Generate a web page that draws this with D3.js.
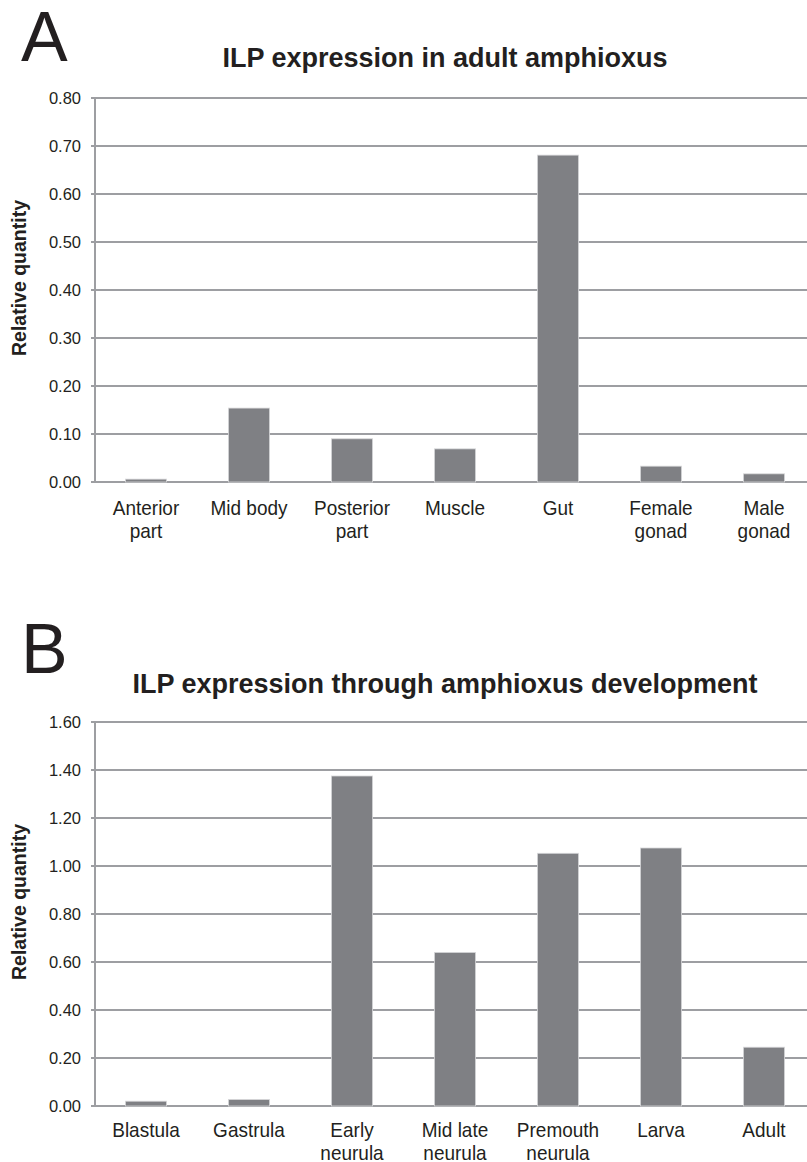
<html>
<head>
	<title>ILP expression</title>
	<meta charset="utf-8">
	<script src="https://d3js.org/d3.v7.min.js"></script>
	<style>
		body { margin: 0; background: #fff; }
		text { font-family: "Liberation Sans", Arial, sans-serif; fill: #231f20; }
	</style>
</head>
<body>
	<script type="text/javascript">
		var width = 807
		var height = 1162

		// panel A
		var catsA = [["Anterior", "part"], ["Mid body"], ["Posterior", "part"], ["Muscle"], ["Gut"], ["Female", "gonad"], ["Male", "gonad"]]
		var valsA = [0.006, 0.154, 0.090, 0.069, 0.681, 0.033, 0.017]
		var ticksA = [0, 0.1, 0.2, 0.3, 0.4, 0.5, 0.6, 0.7, 0.8]

		// panel B
		var catsB = [["Blastula"], ["Gastrula"], ["Early", "neurula"], ["Mid late", "neurula"], ["Premouth", "neurula"], ["Larva"], ["Adult"]]
		var valsB = [0.020, 0.027, 1.375, 0.640, 1.053, 1.075, 0.245]
		var ticksB = [0, 0.2, 0.4, 0.6, 0.8, 1.0, 1.2, 1.4, 1.6]

		var svg = d3.select("body").append("svg")
		  .attr("width", width)
		  .attr("height", height)

		function panel(letter, title, cats, vals, ticks, top, bottom, letterY, titleY, labelY)
		{
			var g = svg.append("g")

			g.append("text")
				.attr("x", 21).attr("y", letterY)
				.attr("font-size", 70)
				.text(letter)

			g.append("text")
				.attr("x", 445).attr("y", titleY)
				.attr("text-anchor", "middle")
				.attr("font-size", 27)
				.attr("font-weight", "bold")
				.text(title)

			var x = d3.scaleBand()
				.domain(d3.range(cats.length))
				.range([94.5, 815.5])
				.paddingInner(0.6)
				.paddingOuter(0.3)

			var y = d3.scaleLinear()
				.domain([0, d3.max(ticks)])
				.range([bottom, top])

			g.selectAll("line.grid")
			  .data(ticks)
			  .enter()
			  .append("line")
				.attr("x1", 91).attr("x2", width)
				.attr("y1", d=>y(d)).attr("y2", d=>y(d))
				.attr("stroke", "#9d9ea2")
				.attr("stroke-width", 2)

			g.append("line")
				.attr("x1", 95).attr("x2", 95)
				.attr("y1", top).attr("y2", bottom)
				.attr("stroke", "#9d9ea2")
				.attr("stroke-width", 2)

			g.selectAll("text.tick")
			  .data(ticks)
			  .enter()
			  .append("text")
				.attr("x", 81).attr("y", d=>y(d) + 6)
				.attr("text-anchor", "end")
				.attr("font-size", 16.5)
				.text(d=>d.toFixed(2))

			g.selectAll("rect")
			  .data(vals)
			  .enter()
			  .append("rect")
				.attr("x", (d, i)=>x(i))
				.attr("width", x.bandwidth())
				.attr("y", d=>y(d))
				.attr("height", d=>bottom - y(d))
				.attr("fill", "#7f8084")
				.attr("stroke", "#d8d8da")
				.attr("stroke-width", 0.8)

			var lab = g.selectAll("text.cat")
			  .data(cats)
			  .enter()
			  .append("text")
				.attr("text-anchor", "middle")
				.attr("font-size", 20)
				.attr("transform", (d, i)=>"translate(" + (x(i) + x.bandwidth() / 2) + "," + labelY + ") scale(0.95,1)")
			lab.selectAll("tspan")
			  .data(d=>d)
			  .enter()
			  .append("tspan")
				.attr("x", 0)
				.attr("dy", (d, i)=>i ? 23 : 0)
				.text(d=>d)

			var mid = (top + bottom) / 2 - 12
			g.append("text")
				.attr("transform", "translate(26," + mid + ") rotate(-90)")
				.attr("text-anchor", "middle")
				.attr("font-size", 19.5)
				.attr("font-weight", "bold")
				.text("Relative quantity")
		}

		panel("A", "ILP expression in adult amphioxus", catsA, valsA, ticksA, 98, 482, 61, 67, 515)
		panel("B", "ILP expression through amphioxus development", catsB, valsB, ticksB, 722, 1106, 673, 693, 1137)
	</script>
</body>
</html>
